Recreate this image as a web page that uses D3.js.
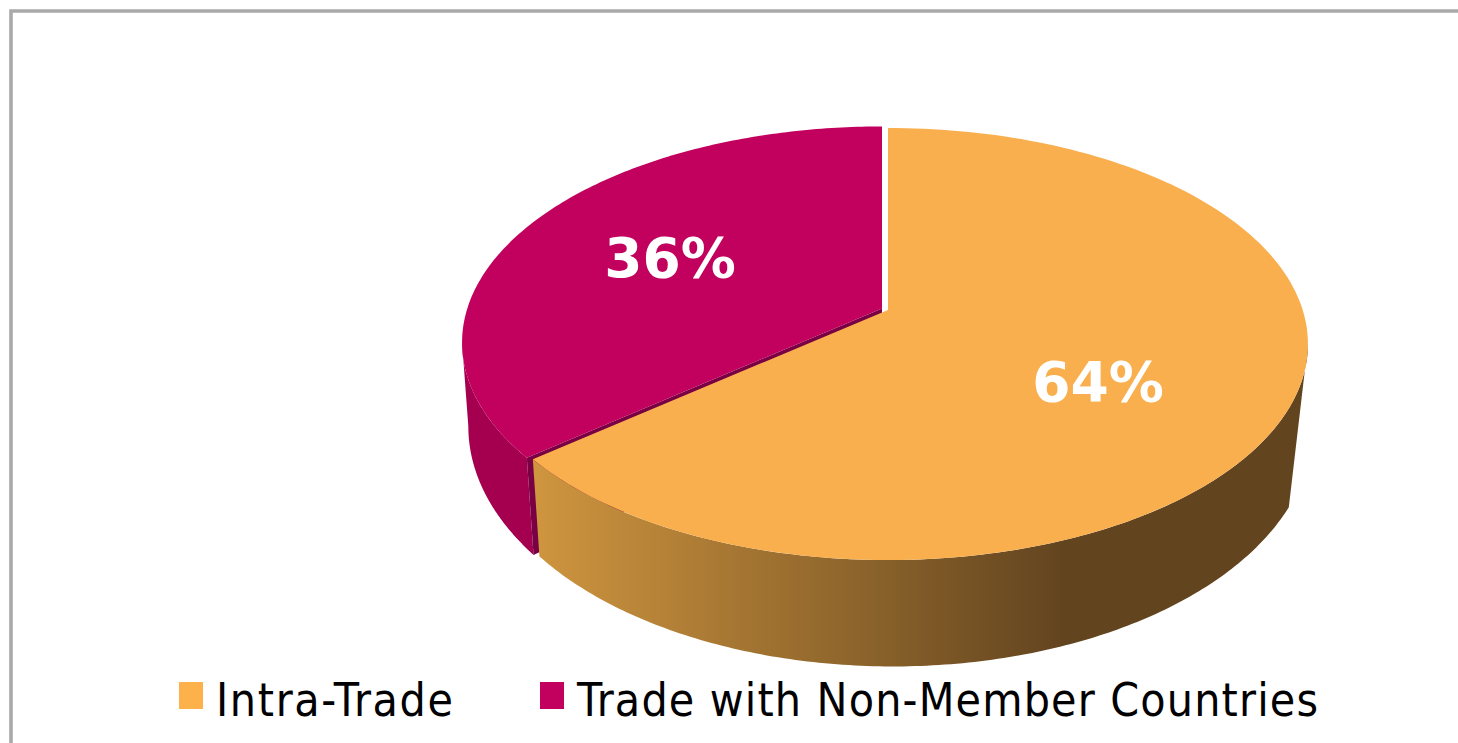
<!DOCTYPE html>
<html>
<head>
<meta charset="utf-8">
<script src="https://cdn.jsdelivr.net/npm/d3@7/dist/d3.min.js"></script>
<style>
html,body{margin:0;padding:0;background:#fff;overflow:hidden}
svg{display:block}
</style>
</head>
<body>
<div id="chart"></div>
<script>
const categories = ["Intra-Trade", "Trade with Non-Member Countries"];
const shares = [64, 36];
const valueLabels = ["64%", "36%"];
const topColors = ["#F9AF4E", "#C2005D"];
const legendColors = ["#FDB14B", "#C2005D"];
const sideColors = ["#A5004F", "#7A0044"];

const W = 1458, H = 743;
const svg = d3.select("#chart").append("svg").attr("width", W).attr("height", H);
const defs = svg.append("defs");

svg.append("path")
  .attr("d", d3.line()([[11, H], [11, 11], [W, 11]]))
  .attr("fill", "none").attr("stroke", "#A9A9A9").attr("stroke-width", 3.6);

const pie = d3.pie().sort(null).value(d => d)(shares);

// perspective: top and bottom disc of the 3-D pie
const perspTop = {R: 414.7, a: 161.9, b: 310, c: -0.1574};
const perspBotOrange = {R: 415, a: 174.7, b: 390.5, c: -0.15};
const perspBotPurple = {R: 409, a: 174.7, b: 390.5, c: -0.15};
const cx = 885;
const oOff = {dx: 3, dy: 0}, pOff = {dx: -3, dy: -1.5};
const oOffBot = {dx: 8, dy: 1.5}, pOffBot = {dx: -3, dy: 0};

function project(p, angle, r, off) {
  const u = r * Math.sin(angle), v = -r * Math.cos(angle);
  const w = 1 + p.c * v;
  return [cx + off.dx + p.R * u / w, off.dy + (p.a * v + p.b) / w];
}
function arcPoints(p, a0, a1, off, n = 160) {
  const t = d3.scaleLinear().domain([0, n]).range([a0, a1]);
  return d3.range(n + 1).map(i => project(p, t(i), 1, off));
}
const line = d3.line();
const closed = pts => line(pts) + "Z";

// angles where the side walls leave the top disc and meet the bottom disc
const silhouetteRight = Math.PI / 2 + Math.asin(-perspTop.c);
const frontRightBot = Math.PI / 2 + Math.asin(0.46);
const silhouetteLeft = 2 * Math.PI - silhouetteRight;
const frontLeftBot = 2 * Math.PI - (Math.PI / 2 + Math.asin(-perspBotPurple.c));

const grad = defs.append("linearGradient").attr("id", "sideGrad")
  .attr("gradientUnits", "userSpaceOnUse")
  .attr("x1", 530).attr("x2", 1065).attr("y1", 0).attr("y2", 0);
grad.append("stop").attr("offset", 0).attr("stop-color", "#D0963F");
grad.append("stop").attr("offset", 1).attr("stop-color", "#62441F");

const [orange, purple] = pie;

// purple side wall
svg.append("path").attr("fill", sideColors[0]).attr("d", closed([
  ...arcPoints(perspTop, purple.startAngle, silhouetteLeft, pOff),
  ...arcPoints(perspBotPurple, frontLeftBot, purple.startAngle, pOffBot)
]));
// purple cut face
svg.append("path").attr("fill", sideColors[1]).attr("d", closed([
  project(perspTop, 0, 0, pOff),
  project(perspTop, purple.startAngle, 1, pOff),
  project(perspBotPurple, purple.startAngle, 1, pOffBot),
  project(perspBotPurple, 0, 0, pOffBot)
]));
// purple top
svg.append("path").attr("fill", topColors[1]).attr("d", closed([
  project(perspTop, 0, 0, pOff),
  ...arcPoints(perspTop, purple.startAngle, purple.endAngle, pOff)
]));
// orange side wall
svg.append("path").attr("fill", "url(#sideGrad)").attr("d", closed([
  ...arcPoints(perspTop, silhouetteRight, orange.endAngle, oOff),
  ...arcPoints(perspBotOrange, orange.endAngle, frontRightBot, oOffBot)
]));
// orange top
svg.append("path").attr("fill", topColors[0]).attr("d", closed([
  project(perspTop, 0, 0, oOff),
  ...arcPoints(perspTop, orange.startAngle, orange.endAngle, oOff)
]));

// value labels
const labelPos = [[1098, 401], [670, 277]];
svg.selectAll("text.val").data(valueLabels).join("text").attr("class", "val")
  .attr("x", (d, i) => labelPos[i][0]).attr("y", (d, i) => labelPos[i][1])
  .attr("text-anchor", "middle").attr("fill", "#fff")
  .attr("font-family", "DejaVu Sans").attr("font-weight", "bold").attr("font-size", 55)
  .text(d => d);

// legend
const swatchX = [179, 540], textX = [216, 577], textW = [237, 741];
svg.selectAll("rect.sw").data(categories).join("rect").attr("class", "sw")
  .attr("x", (d, i) => swatchX[i]).attr("y", 682).attr("width", 24).attr("height", 27)
  .attr("fill", (d, i) => legendColors[i]);
svg.selectAll("text.lg").data(categories).join("text").attr("class", "lg")
  .attr("x", (d, i) => textX[i]).attr("y", 716)
  .attr("font-family", "DejaVu Sans").attr("font-stretch", "condensed").attr("font-size", 46)
  .attr("fill", "#000")
  .attr("textLength", (d, i) => textW[i]).attr("lengthAdjust", "spacing")
  .text(d => d);
</script>
</body>
</html>
